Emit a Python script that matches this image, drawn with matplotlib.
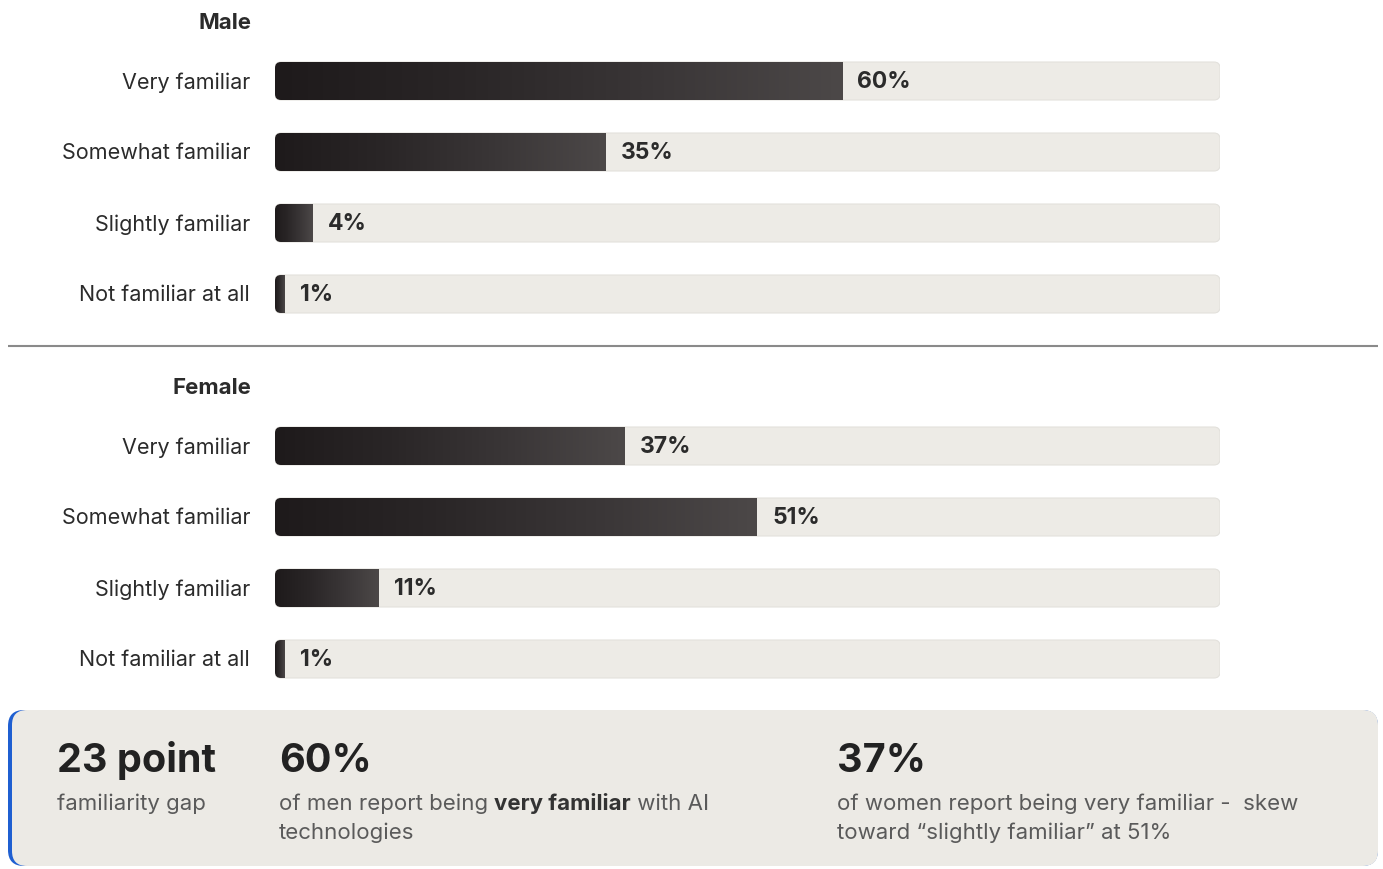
import matplotlib
matplotlib.use('Agg')
import matplotlib.pyplot as plt
import numpy as np
from matplotlib.patches import FancyBboxPatch
from matplotlib.colors import LinearSegmentedColormap

# ---------------- data ----------------
categories = ["Very familiar", "Somewhat familiar", "Slightly familiar", "Not familiar at all"]
male_values = [60, 35, 4, 1]
female_values = [37, 51, 11, 1]
group_titles = ["Male", "Female"]

stat_big = ["23 point", "60%", "37%"]
stat_small = [
    [[("familiarity gap", "normal")]],
    [[("of men report being ", "normal"), ("very familiar", "bold"), (" with AI", "normal")],
     [("technologies", "normal")]],
    [[("of women report being very familiar -  skew", "normal")],
     [("toward \u201cslightly familiar\u201d at 51%", "normal")]],
]

# ---------------- style ----------------
W, H = 1383, 869
FONT = ["Inter", "DejaVu Sans"]
plt.rcParams['font.family'] = FONT
TXT = '#2b2b2b'
SUB = '#5a5a5a'
TRACK = '#EDEBE6'
BOX = '#ECEAE5'

fig = plt.figure(figsize=(W / 100, H / 100), dpi=100)
fig.patch.set_facecolor('white')

ov = fig.add_axes([0, 0, 1, 1], zorder=0)
ov.set_xlim(0, W)
ov.set_ylim(H, 0)
ov.axis('off')

cmap = LinearSegmentedColormap.from_list('bar', ['#1e1a1b', '#2a2627', '#3a3637', '#4c4848'])
grad = np.linspace(0, 1, 256).reshape(1, -1)

ROW_GAP = 71
BAR_H_PX = 38
X0, XW = 275, 945


def panel(first_center, values, title):
    top = first_center - ROW_GAP / 2
    bottom = top + ROW_GAP * len(categories)
    ax = fig.add_axes([X0 / W, 1 - bottom / H, XW / W, (bottom - top) / H], zorder=2)
    ax.axis('off')
    bh = BAR_H_PX / ROW_GAP
    px_x = XW / 100.0
    r = 6 / px_x
    aspect = px_x / ROW_GAP
    for i, (cat, v) in enumerate(zip(categories, values)):
        track = FancyBboxPatch((0, i - bh / 2), 100, bh,
                               boxstyle=f"round,pad=0,rounding_size={r}",
                               mutation_aspect=aspect, fc=TRACK, ec='#E3E1DC',
                               lw=0.8, zorder=1)
        ax.add_patch(track)
        im = ax.imshow(grad, extent=(0, v, i + bh / 2, i - bh / 2), aspect='auto',
                       cmap=cmap, interpolation='bicubic', zorder=3)
        im.set_clip_path(track)
        ax.annotate(f"{v}%", xy=(v, i), xytext=(11, -1), textcoords='offset points',
                    ha='left', va='center', fontsize=16.5, fontweight='bold',
                    color=TXT, zorder=4)
        ax.annotate(cat, xy=(0, i), xytext=(-18, -1), textcoords='offset points',
                    ha='right', va='center', fontsize=15.5, color=TXT,
                    annotation_clip=False)
    ax.set_xlim(0, 100)
    ax.set_ylim(len(categories) - 0.5, -0.5)
    ov.text(251, first_center - 58, title, ha='right', va='center',
            fontsize=16, fontweight='bold', color=TXT)


panel(81, male_values, group_titles[0])
panel(446, female_values, group_titles[1])

# separator
ov.plot([8, 1378], [346, 346], color='#8a8a8a', lw=1.5, solid_capstyle='butt')

# summary box
ov.add_patch(FancyBboxPatch((8, 710), 1370, 156, boxstyle="round,pad=0,rounding_size=16",
                            fc='#1f5fd1', ec='none', zorder=1))
ov.add_patch(FancyBboxPatch((12, 710), 1366, 156, boxstyle="round,pad=0,rounding_size=15",
                            fc=BOX, ec='none', zorder=2))

col_x = [57, 279, 837]
for x, big, lines in zip(col_x, stat_big, stat_small):
    ov.text(x, 772, big, ha='left', va='baseline', fontsize=28.5, fontweight='bold',
            color='#222222', zorder=3)
    for li, line in enumerate(lines):
        y = 810 + li * 29
        prev = None
        for txt, wt in line:
            if prev is None:
                prev = ov.text(x, y, txt, ha='left', va='baseline', fontsize=16,
                               fontweight=wt, color=SUB if wt == 'normal' else '#333333',
                               zorder=3)
            else:
                prev = ov.annotate(txt, xy=(1, 0), xycoords=prev, ha='left', va='bottom',
                                   fontsize=16, fontweight=wt,
                                   color=SUB if wt == 'normal' else '#333333', zorder=3)

fig.savefig('out.png', dpi=100, facecolor='white')
